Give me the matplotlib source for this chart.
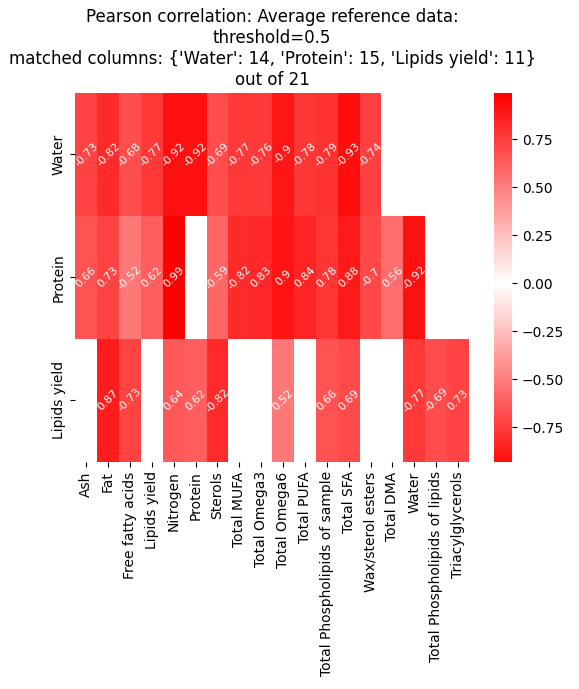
import numpy as np
import pandas as pd
import matplotlib
matplotlib.use("Agg")
import matplotlib.pyplot as plt
import seaborn as sns
from matplotlib.colors import LinearSegmentedColormap

columns = ["Ash", "Fat", "Free fatty acids", "Lipids yield", "Nitrogen", "Protein", "Sterols",
           "Total MUFA", "Total Omega3", "Total Omega6", "Total PUFA",
           "Total Phospholipids of sample", "Total SFA", "Wax/sterol esters", "Total DMA",
           "Water", "Total Phospholipids of lipids", "Triacylglycerols"]
rows = ["Water", "Protein", "Lipids yield"]
n = np.nan
water = [-0.73, -0.82, -0.68, -0.77, -0.92, -0.92, -0.69, -0.77, -0.76, -0.9, -0.78, -0.79, -0.93, -0.74, n, n, n, n]
protein = [0.66, 0.73, -0.52, 0.62, 0.99, n, -0.59, -0.82, 0.83, 0.9, 0.84, 0.78, 0.88, -0.7, 0.56, -0.92, n, n]
lipids = [n, 0.87, -0.73, n, 0.64, 0.62, -0.82, n, n, 0.52, n, 0.66, 0.69, n, n, -0.77, -0.69, 0.73]

df = pd.DataFrame([water, protein, lipids], index=rows, columns=columns)
cmap = LinearSegmentedColormap.from_list("rwr", ["#ff0000", "#ffffff", "#ff0000"])

fig, ax = plt.subplots(figsize=(5.79, 6.89), dpi=100)
sns.heatmap(df, ax=ax, cmap=cmap, center=0, annot=True,
            annot_kws={"rotation": 45, "fontsize": 8, "color": "white"})
ax.set_title("Pearson correlation: Average reference data:\nthreshold=0.5\n"
             "matched columns: {'Water': 14, 'Protein': 15, 'Lipids yield': 11}\nout of 21")
fig.subplots_adjust(left=0.13, right=0.98, top=0.865, bottom=0.33)
fig.savefig("out.png")
